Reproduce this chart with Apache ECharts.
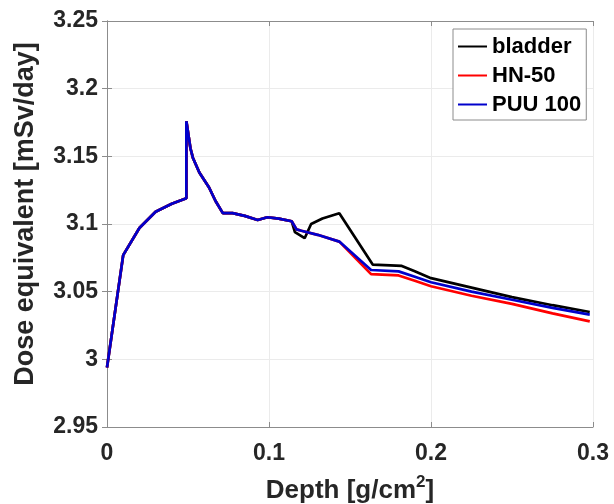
<!DOCTYPE html>
<html>
<head>
<meta charset="utf-8">
<script src="https://cdn.jsdelivr.net/npm/echarts@6/dist/echarts.min.js"></script>
<style>
  html, body { margin: 0; padding: 0; background: #fff; }
  #chart { width: 614px; height: 504px; }
</style>
</head>
<body>
<div id="chart"></div>
<script>
// depth [g/cm2] and dose equivalent [mSv/day]
const bladderDepth = [0, 0.01, 0.02, 0.03, 0.04, 0.049, 0.049, 0.0515, 0.053, 0.057, 0.063, 0.067, 0.0715, 0.0775, 0.085, 0.093, 0.099, 0.106, 0.114, 0.116, 0.122, 0.126, 0.133, 0.1434, 0.164, 0.182, 0.19, 0.2, 0.225, 0.25, 0.275, 0.298];
const bladderDose = [2.994, 3.077, 3.097, 3.109, 3.115, 3.119, 3.176, 3.156, 3.149, 3.138, 3.127, 3.117, 3.108, 3.108, 3.106, 3.103, 3.105, 3.104, 3.102, 3.094, 3.0895, 3.100, 3.104, 3.108, 3.070, 3.069, 3.065, 3.060, 3.053, 3.046, 3.040, 3.035];

const hnDepth = [0, 0.01, 0.02, 0.03, 0.04, 0.049, 0.049, 0.0515, 0.053, 0.057, 0.063, 0.067, 0.0715, 0.0775, 0.085, 0.093, 0.099, 0.106, 0.114, 0.117, 0.12, 0.13, 0.1434, 0.163, 0.18, 0.19, 0.2, 0.225, 0.25, 0.275, 0.298];
const hnDose = [2.994, 3.077, 3.097, 3.109, 3.115, 3.119, 3.176, 3.156, 3.149, 3.138, 3.127, 3.117, 3.108, 3.108, 3.106, 3.103, 3.105, 3.104, 3.102, 3.096, 3.095, 3.092, 3.087, 3.063, 3.062, 3.058, 3.054, 3.047, 3.041, 3.034, 3.028];

const puuDepth = [0, 0.01, 0.02, 0.03, 0.04, 0.049, 0.049, 0.0515, 0.053, 0.057, 0.063, 0.067, 0.0715, 0.0775, 0.085, 0.093, 0.099, 0.106, 0.114, 0.117, 0.12, 0.13, 0.1434, 0.163, 0.18, 0.19, 0.2, 0.225, 0.25, 0.275, 0.298];
const puuDose = [2.994, 3.077, 3.097, 3.109, 3.115, 3.119, 3.176, 3.156, 3.149, 3.138, 3.127, 3.117, 3.108, 3.108, 3.106, 3.103, 3.105, 3.104, 3.102, 3.096, 3.095, 3.092, 3.087, 3.066, 3.065, 3.061, 3.057, 3.050, 3.044, 3.038, 3.033];

const seriesNames = ['bladder', 'HN-50', 'PUU 100'];
const seriesColors = ['#000000', '#ff0000', '#0000cc'];

const font = 'Liberation Sans, Arial, Helvetica, sans-serif';
const zip = (xs, ys) => xs.map((x, i) => [x, ys[i]]);

const chart = echarts.init(document.getElementById('chart'));

const axisLine = { show: true, lineStyle: { color: '#8c8c8c', width: 1 } };
const axisTick = { show: true, inside: true, length: 5, lineStyle: { color: '#8c8c8c' } };

const option = {
  backgroundColor: '#fff',
  animation: false,
  grid: { left: 107, right: 21, top: 21, bottom: 77, outerBoundsMode: 'none', containLabel: false },
  legend: {
    data: seriesNames,
    orient: 'vertical',
    left: 453,
    top: 29,
    icon: 'rect',
    itemWidth: 29,
    itemHeight: 2,
    itemGap: 6,
    padding: [6, 5, 4, 5],
    backgroundColor: '#fff',
    borderColor: '#8c8c8c',
    borderWidth: 1,
    textStyle: { fontFamily: font, fontSize: 22, lineHeight: 23, fontWeight: 'bold', color: '#000' }
  },
  xAxis: [{
    type: 'value',
    min: 0,
    max: 0.3,
    interval: 0.1,
    name: 'Depth [g/cm{sup|2}]',
    nameLocation: 'middle',
    nameGap: 47,
    nameTextStyle: {
      fontFamily: font, fontSize: 26, fontWeight: 'bold', color: '#262626',
      rich: { sup: { fontFamily: font, fontSize: 17, fontWeight: 'bold', color: '#262626', verticalAlign: 'top', padding: [0, 0, 16, 0] } }
    },
    axisLine: axisLine,
    axisTick: axisTick,
    axisLabel: { fontFamily: font, fontSize: 23, fontWeight: 'bold', color: '#262626', margin: 15 },
    splitLine: { show: true, lineStyle: { color: '#ebebeb' } }
  }, {
    type: 'value',
    position: 'top',
    min: 0,
    max: 0.3,
    interval: 0.1,
    axisLine: axisLine,
    axisTick: axisTick,
    axisLabel: { show: false },
    splitLine: { show: false }
  }],
  yAxis: [{
    type: 'value',
    min: 2.95,
    max: 3.25,
    interval: 0.05,
    name: 'Dose equivalent [mSv/day]',
    nameLocation: 'middle',
    nameGap: 68,
    nameTextStyle: { fontFamily: font, fontSize: 27, fontWeight: 'bold', color: '#262626', padding: [0, 0, 0, 20] },
    axisLine: axisLine,
    axisTick: axisTick,
    axisLabel: { fontFamily: font, fontSize: 23, fontWeight: 'bold', color: '#262626', margin: 9 },
    splitLine: { show: true, lineStyle: { color: '#ebebeb' } }
  }, {
    type: 'value',
    position: 'right',
    min: 2.95,
    max: 3.25,
    interval: 0.05,
    axisLine: axisLine,
    axisTick: axisTick,
    axisLabel: { show: false },
    splitLine: { show: false }
  }],
  series: [
    { name: seriesNames[0], type: 'line', data: zip(bladderDepth, bladderDose), showSymbol: false, symbol: 'none', color: seriesColors[0], lineStyle: { width: 2.7 } },
    { name: seriesNames[1], type: 'line', data: zip(hnDepth, hnDose), showSymbol: false, symbol: 'none', color: seriesColors[1], lineStyle: { width: 2.7 } },
    { name: seriesNames[2], type: 'line', data: zip(puuDepth, puuDose), showSymbol: false, symbol: 'none', color: seriesColors[2], lineStyle: { width: 2.7 } }
  ]
};

chart.setOption(option);
</script>
</body>
</html>
